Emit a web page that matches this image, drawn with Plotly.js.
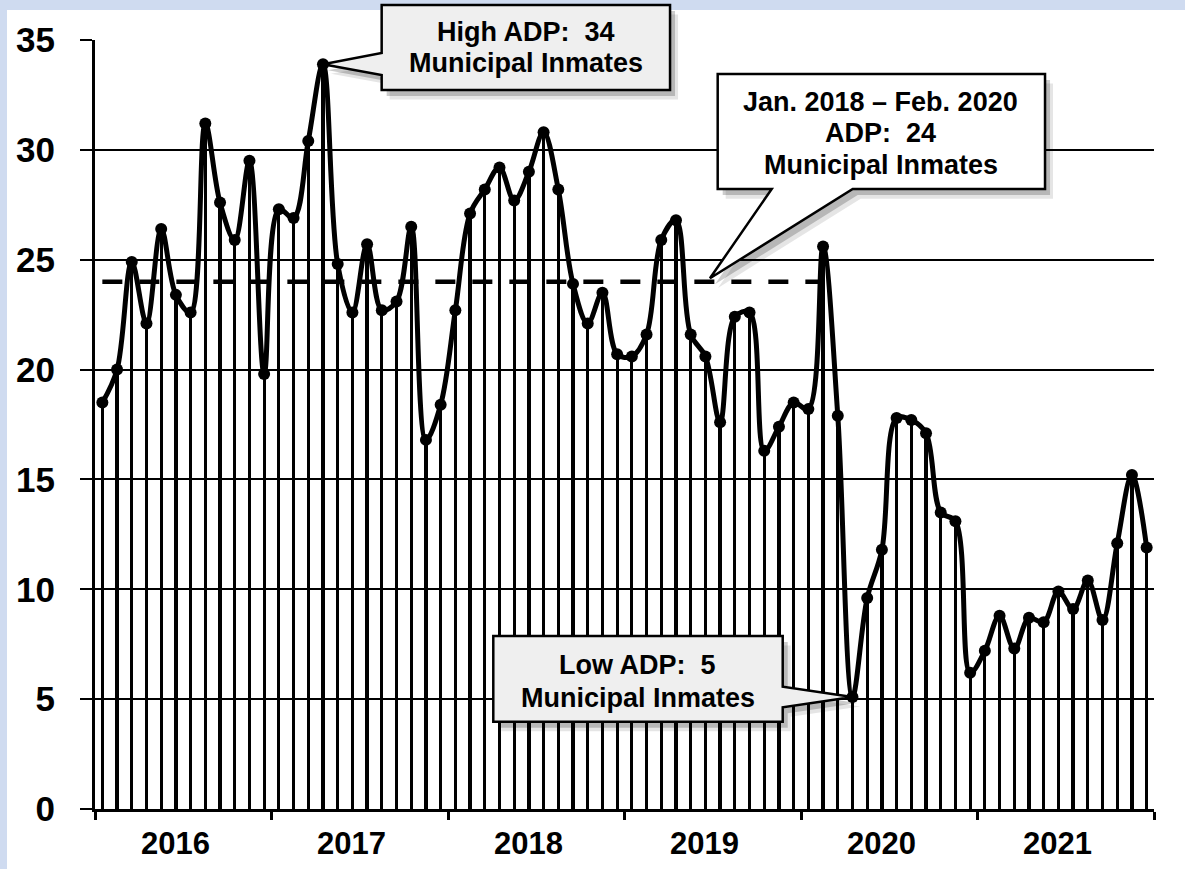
<!DOCTYPE html>
<html>
<head>
<meta charset="utf-8">
<script src="https://cdn.plot.ly/plotly-3.0.1.min.js"></script>
<style>
  html, body { margin: 0; padding: 0; background: #cfdbf0; }
  #chart { width: 1185px; height: 869px; }
</style>
</head>
<body>
<div id="chart"></div>
<script>
// ---- Data ----
const years = ['2016', '2017', '2018', '2019', '2020', '2021'];
const monthNames = ['Jan', 'Feb', 'Mar', 'Apr', 'May', 'Jun', 'Jul', 'Aug', 'Sep', 'Oct', 'Nov', 'Dec'];
const adp2016 = [18.5, 20.0, 24.9, 22.1, 26.4, 23.4, 22.6, 31.2, 27.6, 25.9, 29.5, 19.8];
const adp2017 = [27.3, 26.9, 30.4, 33.9, 24.8, 22.6, 25.7, 22.7, 23.1, 26.5, 16.8, 18.4];
const adp2018 = [22.7, 27.1, 28.2, 29.2, 27.7, 29.0, 30.8, 28.2, 23.9, 22.1, 23.5, 20.7];
const adp2019 = [20.6, 21.6, 25.9, 26.8, 21.6, 20.6, 17.6, 22.4, 22.6, 16.3, 17.4, 18.5];
const adp2020 = [18.2, 25.6, 17.9, 5.1, 9.6, 11.8, 17.8, 17.7, 17.1, 13.5, 13.1, 6.2];
const adp2021 = [7.2, 8.8, 7.3, 8.7, 8.5, 9.9, 9.1, 10.4, 8.6, 12.1, 15.2, 11.9];
const avgPeriod = ['Jan 2016', 'Feb 2020'];
const avgValue = 24;
const highLabel = ['High ADP:\u00a0 34', 'Municipal Inmates'];
const avgLabel = ['Jan. 2018 \u2013 Feb. 2020', 'ADP:\u00a0 24', 'Municipal Inmates'];
const lowLabel = ['Low ADP:\u00a0 5', 'Municipal Inmates'];

// ---- Derived ----
const months = years.flatMap(y => monthNames.map(m => m + ' ' + y));
const adp = [].concat(adp2016, adp2017, adp2018, adp2019, adp2020, adp2021);
const xIdx = months.map((_, i) => i);
const nM = months.length;
const iMax = adp.indexOf(Math.max(...adp));
const iMin = adp.indexOf(Math.min(...adp));
const avgX = avgPeriod.map(m => months.indexOf(m));

const FONT = 'Arial, "Liberation Sans", sans-serif';
const YMAX = 35;
const px = i => (i + 0.5) / nM;
const py = v => v / YMAX;

const traces = [
  { type: 'bar', x: xIdx, y: adp, width: 0.22, marker: { color: '#000', line: { width: 0 } },
    hoverinfo: 'skip', showlegend: false },
  { type: 'scatter', mode: 'lines', x: avgX, y: avgX.map(() => avgValue),
    line: { color: '#000', width: 4.5, dash: '20px,17px' }, hoverinfo: 'skip', showlegend: false },
  { type: 'scatter', mode: 'lines+markers', x: xIdx, y: adp, text: months,
    line: { color: '#000', width: 5, shape: 'spline', smoothing: 1 },
    marker: { color: '#000', size: 12 }, showlegend: false,
    hovertemplate: '%{text}: %{y}<extra></extra>' }
];

function boxPath(pts) {
  return 'M ' + pts.map(p => p[0] + ',' + p[1]).join(' L ') + ' Z';
}
function offsetPts(pts, dx, dy) { return pts.map(p => [p[0] + dx, p[1] + dy]); }

// Callout geometry (paper coords)
const b1 = { x0: 0.2707, x1: 0.5430, yt: 1.0455, yb: 0.935 };
const c1 = [[b1.x0, b1.yt], [b1.x1, b1.yt], [b1.x1, b1.yb], [b1.x0, b1.yb], [b1.x0, 0.9545],
            [px(iMax), py(adp[iMax])], [b1.x0, 0.9831]];
const b2 = { x0: 0.588, x1: 0.8971, yt: 0.9558, yb: 0.8062 };
const c2 = [[b2.x0, b2.yt], [b2.x1, b2.yt], [b2.x1, b2.yb], [0.7155, b2.yb],
            [0.5807, py(avgValue) + 0.0044], [0.639, b2.yb], [b2.x0, b2.yb]];
const b3 = { x0: 0.3761, x1: 0.6494, yt: 0.225, yb: 0.1135 };
const c3 = [[b3.x0, b3.yt], [b3.x1, b3.yt], [b3.x1, 0.159], [px(iMin), py(adp[iMin])],
            [b3.x1, 0.1323], [b3.x1, b3.yb], [b3.x0, b3.yb]];

const dx = 5 / 1059, dy = -6 / 769;
const shapes = [
  { type: 'rect', xref: 'paper', yref: 'paper', x0: -0.0831, x1: 1.05, y0: -0.1, y1: 1.039,
    fillcolor: '#ffffff', line: { width: 0 }, layer: 'below' }
];
[[c1, '#efefef'], [c2, '#ffffff'], [c3, '#efefef']].forEach(([c, fill]) => {
  shapes.push({ type: 'path', xref: 'paper', yref: 'paper', path: boxPath(offsetPts(c, dx * 1.6, dy * 1.6)),
    fillcolor: 'rgba(0,0,0,0.10)', line: { width: 0 }, layer: 'above' });
  shapes.push({ type: 'path', xref: 'paper', yref: 'paper', path: boxPath(offsetPts(c, dx, dy)),
    fillcolor: 'rgba(0,0,0,0.20)', line: { width: 0 }, layer: 'above' });
  shapes.push({ type: 'path', xref: 'paper', yref: 'paper', path: boxPath(c),
    fillcolor: fill, line: { color: '#000', width: 2.5 }, layer: 'above' });
});

const annFont = { family: FONT, size: 27, color: '#000', weight: 'bold' };
const annotations = [];
function addLines(lines, xc, ys) {
  lines.forEach((t, k) => annotations.push({
    xref: 'paper', yref: 'paper', x: xc, y: ys[k], xanchor: 'center', yanchor: 'middle',
    text: t, showarrow: false, font: annFont }));
}
addLines(highLabel, (525.5 - 95) / 1059, [1.0104, 0.9701]);
addLines(avgLabel, (880.8 - 95) / 1059, [0.9198, 0.8787, 0.8375]);
addLines(lowLabel, (637.6 - 95) / 1059, [0.1873, 0.1443]);

years.forEach((y, k) => {
  annotations.push({ xref: 'x', yref: 'paper', x: k * 12 + 5.5, xshift: -8, y: -0.0455,
    xanchor: 'center', yanchor: 'middle',
    text: y, showarrow: false, font: { family: FONT, size: 31, color: '#000', weight: 'bold' } });
});

const layout = {
  width: 1185, height: 869,
  margin: { l: 95, r: 31, t: 40, b: 60 },
  paper_bgcolor: '#cfdbf0',
  plot_bgcolor: '#ffffff',
  showlegend: false,
  bargap: 0,
  xaxis: {
    range: [-0.5, nM - 0.5],
    tickmode: 'array',
    tickvals: years.map((_, k) => k * 12 - 0.5).concat([nM - 0.5]),
    showticklabels: false,
    ticks: 'outside', ticklen: 8, tickwidth: 3, tickcolor: '#000',
    showline: true, linecolor: '#000', linewidth: 3,
    showgrid: false, zeroline: false, fixedrange: true
  },
  yaxis: {
    range: [0, YMAX],
    tickmode: 'linear', tick0: 0, dtick: 5,
    ticks: 'outside', ticklen: 12, tickwidth: 2, tickcolor: '#000',
    ticklabelstandoff: 18,
    tickfont: { family: FONT, size: 35, color: '#000', weight: 'bold' },
    showline: true, linecolor: '#000', linewidth: 3,
    showgrid: true, gridcolor: '#000', gridwidth: 1.5,
    zeroline: false, fixedrange: true
  },
  shapes: shapes,
  annotations: annotations
};

Plotly.newPlot('chart', traces, layout, { displayModeBar: false });
</script>
</body>
</html>
